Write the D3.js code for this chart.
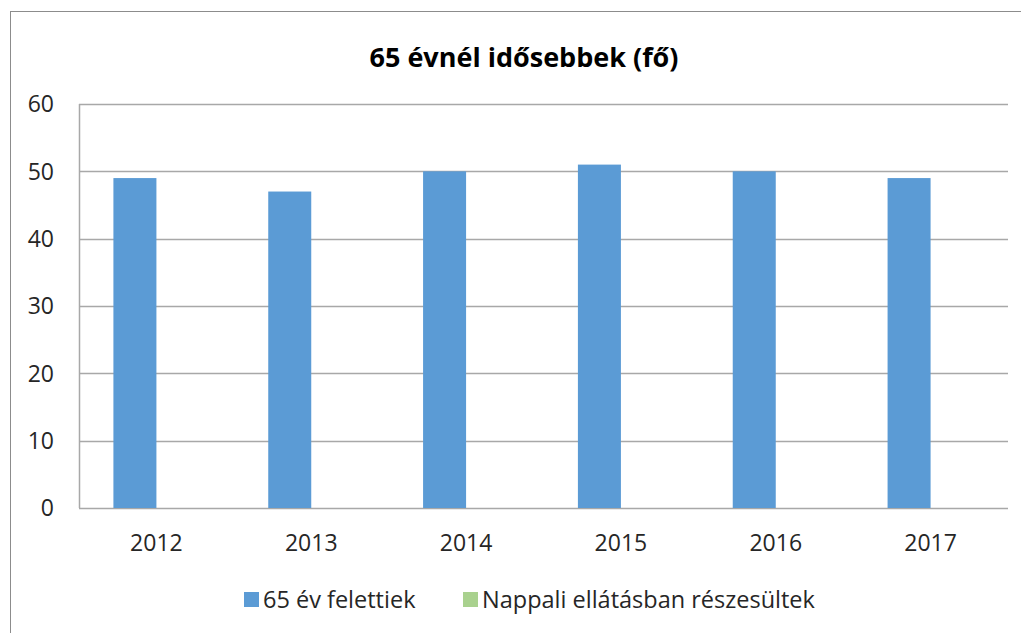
<!DOCTYPE html>
<meta charset="utf-8">
<html>
<head>
<script src="https://d3js.org/d3.v7.min.js"></script>
<style>
  body { margin: 0; background: #fff; }
  text { font-family: "Open Sans", sans-serif; fill: #262626; }
</style>
</head>
<body>
<div id="chartContainer"></div>
<script>
  // Data
  var years = ["2012", "2013", "2014", "2015", "2016", "2017"];
  var seriesNames = ["65 év felettiek", "Nappali ellátásban részesültek"];
  var over65 = [49, 47, 50, 51, 50, 49];
  var dayCare = [0, 0, 0, 0, 0, 0];
  var yTicks = [0, 10, 20, 30, 40, 50, 60];
  var colors = ["#5b9bd5", "#a9d18e"];

  var W = 1021, H = 633;
  var m = { left: 79, top: 104, right: 1008, bottom: 508 };

  var svg = d3.select("#chartContainer").append("svg")
    .attr("width", W).attr("height", H);

  // chart frame (runs off the right and bottom of the window)
  svg.append("rect")
    .attr("x", 10.5).attr("y", 11.5)
    .attr("width", 1100).attr("height", 700)
    .attr("fill", "#fff").attr("stroke", "#8c8c8c").attr("stroke-width", 1);

  var x = d3.scaleBand().domain(years).range([m.left, m.right]).paddingInner(0).paddingOuter(0);
  var y = d3.scaleLinear().domain([0, 60]).range([m.bottom, m.top]);

  // group width: two bars, gap width ~160% of a bar
  var group = x.bandwidth() / 3.6 * 2;
  var xs = d3.scaleBand().domain([0, 1]).range([0, group]);

  // gridlines
  svg.append("g").selectAll("line").data(yTicks).join("line")
    .attr("x1", m.left).attr("x2", m.right)
    .attr("y1", d => Math.round(y(d)) + 0.5).attr("y2", d => Math.round(y(d)) + 0.5)
    .attr("stroke", "#a8a8a8").attr("stroke-width", 1.5);

  // left axis line
  svg.append("line")
    .attr("x1", m.left + 0.5).attr("x2", m.left + 0.5)
    .attr("y1", m.top).attr("y2", m.bottom)
    .attr("stroke", "#a8a8a8").attr("stroke-width", 1.5);

  // bars
  var series = [over65, dayCare];
  series.forEach(function (vals, si) {
    svg.append("g").selectAll("rect").data(vals).join("rect")
      .attr("x", (d, i) => x(years[i]) + (x.bandwidth() - group) / 2 + xs(si))
      .attr("width", xs.bandwidth())
      .attr("y", d => y(d))
      .attr("height", d => y(0) - y(d))
      .attr("fill", colors[si]);
  });

  // y tick labels
  svg.append("g").selectAll("text").data(yTicks).join("text")
    .attr("x", 54).attr("y", d => y(d))
    .attr("dy", "0.36em")
    .attr("text-anchor", "end")
    .style("font-size", "23px")
    .text(d => d);

  // x labels
  svg.append("g").selectAll("text").data(years).join("text")
    .attr("x", d => x(d) + x.bandwidth() / 2)
    .attr("y", 543).attr("dy", "0.36em")
    .attr("text-anchor", "middle")
    .style("font-size", "23px")
    .text(d => d);

  // title
  svg.append("text")
    .attr("x", 524).attr("y", 57).attr("dy", "0.36em")
    .attr("text-anchor", "middle")
    .style("font-size", "27px").style("font-weight", "bold")
    .style("fill", "#000")
    .text("65 évnél idősebbek (fő)");

  // legend
  var legX = [244, 463];
  var leg = svg.append("g").selectAll("g").data(seriesNames).join("g")
    .attr("transform", (d, i) => "translate(" + legX[i] + ",600)");
  leg.append("rect")
    .attr("x", 0).attr("y", -8).attr("width", 15).attr("height", 15)
    .attr("fill", (d, i) => colors[i]);
  leg.append("text")
    .attr("x", 19).attr("y", 0).attr("dy", "0.36em")
    .style("font-size", "23.5px")
    .text(d => d);
</script>
</body>
</html>
